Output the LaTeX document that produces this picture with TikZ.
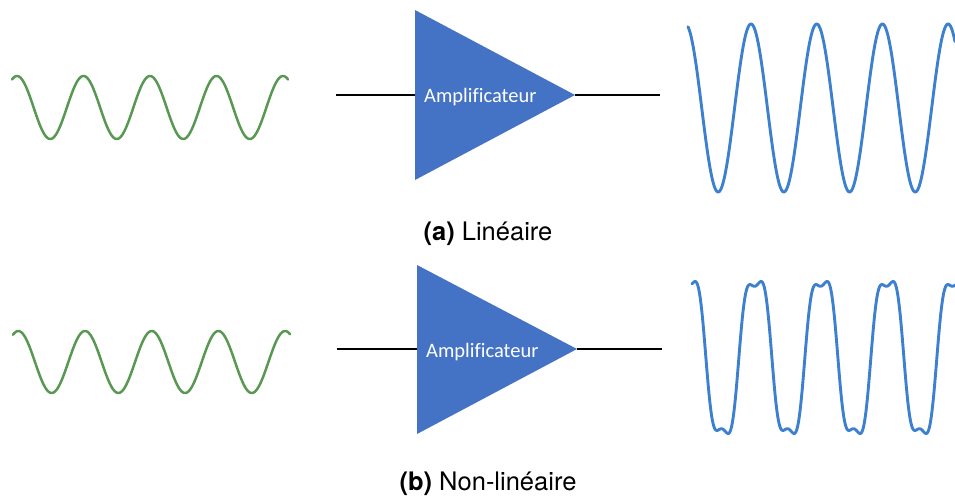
\documentclass[tikz,border=0pt]{standalone}
\usepackage{fontspec}
\newfontfamily\calib[Ligatures=NoCommon]{Carlito}
\newfontfamily\helv{TeX Gyre Heros}
\definecolor{wavegreen}{RGB}{88,152,82}
\definecolor{waveblue}{RGB}{62,128,208}
\definecolor{ampblue}{RGB}{68,114,196}
\tikzset{
  greenwave/.style={draw=wavegreen, line width=2.5pt, line join=round, line cap=round},
  bluewave/.style={draw=waveblue, line width=2.9pt, line join=round, line cap=round},
  ampbody/.style={fill=ampblue, draw=none},
  wire/.style={draw=black, line width=2.6pt},
  amplabel/.style={text=white, font=\calib\fontsize{20.5}{24}\selectfont, anchor=base west, inner sep=0pt},
  caption/.style={font=\helv\fontsize{25.5}{30}\selectfont, anchor=base, inner sep=0pt}
}
\begin{document}
\begin{tikzpicture}[x=1pt, y=-1pt]
\useasboundingbox (0,0) rectangle (955,495);
% ---- (a) linear ----
\draw[greenwave] plot[domain=12:288, samples=300, smooth] (\x, {107.5 - 31.5*cos(5.41353*(\x-17))});
\coordinate (ainL) at (336,95);
\coordinate (aT1) at (415,10);
\coordinate (aT2) at (415,180);
\coordinate (ainA) at (415,95);
\coordinate (aout) at (575,95);
\coordinate (aoutR) at (660,95);
\fill[ampbody] (aT1) -- (aout) -- (aT2) -- cycle;
\draw[wire] (ainL) -- (ainA);
\draw[wire] (aout) -- (aoutR);
\node[amplabel] (alabel) at (424,102) {Amplificateur};
\draw[bluewave] plot[domain=688:955, samples=400, smooth] (\x, {108 - 84*cos(5.47945*(\x-685.3))});
\node[caption] (acap) at (488,240) {\textbf{(a)} Linéaire};
% ---- (b) non-linear ----
\draw[greenwave] plot[domain=13:290, samples=300, smooth] (\x, {362 - 31*cos(5.39730*(\x-18.3))});
\coordinate (binL) at (337,349);
\coordinate (bT1) at (417,265);
\coordinate (bT2) at (417,434);
\coordinate (binA) at (417,349);
\coordinate (bout) at (577,349);
\coordinate (boutR) at (662,349);
\fill[ampbody] (bT1) -- (bout) -- (bT2) -- cycle;
\draw[wire] (binL) -- (binA);
\draw[wire] (bout) -- (boutR);
\node[amplabel] (blabel) at (426,357) {Amplificateur};
\draw[bluewave] plot[domain=692:955, samples=500, smooth] (\x, {357.5 - 86*(cos(5.45455*(\x-689.5)) - 0.17*cos(16.36364*(\x-689.5) + 6))});
\node[caption] (bcap) at (488,490) {\textbf{(b)} Non-linéaire};
\end{tikzpicture}
\end{document}
